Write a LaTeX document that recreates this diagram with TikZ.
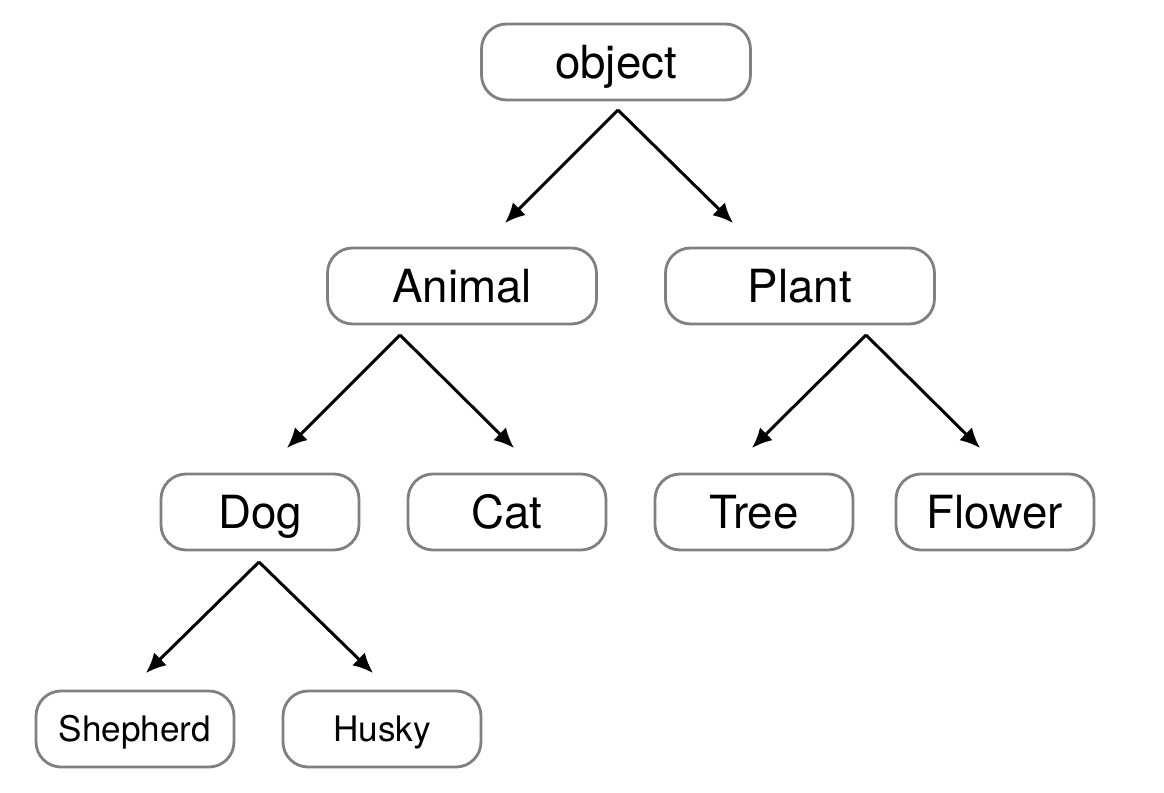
\documentclass[tikz,border=0pt]{standalone}
\usepackage{fontspec}
\setmainfont{TeX Gyre Heros}
\usetikzlibrary{arrows.meta,positioning}
\definecolor{boxgray}{RGB}{128,128,128}

\begin{document}
\begin{tikzpicture}[x=0.02cm,y=-0.02cm,
        every node/.style={font=\fontsize{26}{30}\selectfont},
        box/.style={draw=boxgray,line width=1.6pt,rounded corners=0.5cm,
                    minimum width=5.38cm,minimum height=1.52cm,align=center,
                    text height=18.7pt,text depth=0pt},
        leaf/.style={box,minimum width=3.96cm},
        small/.style={leaf,font=\fontsize{20}{24}\selectfont,text height=14.4pt},
        arr/.style={line width=1.7pt,-{Latex[length=0.4cm,width=0.36cm]}}]
      \useasboundingbox (0,0) rectangle (1164,793);
      \node[box]   (object)   at (616,62)  {object};
      \node[box]   (animal)   at (462,286) {Animal};
      \node[box]   (plant)    at (800,286) {Plant};
      \node[leaf]  (dog)      at (260,512) {Dog};
      \node[leaf]  (cat)      at (507,512) {Cat};
      \node[leaf]  (tree)     at (754,512) {Tree};
      \node[leaf]  (flower)   at (995,512) {Flower};
      \node[small] (shepherd) at (135,729) {Shepherd};
      \node[small] (husky)    at (382,729) {Husky};
      % fork points below the parents, tips above the children
      \coordinate (object-f) at (618,110);
      \coordinate (animal-f) at (400,335);
      \coordinate (plant-f)  at (866,335);
      \coordinate (dog-f)    at (259,562);
      \coordinate (animal-t) at (505,223);
      \coordinate (plant-t)  at (733,223);
      \coordinate (dog-t)    at (287,448);
      \coordinate (cat-t)    at (514,448);
      \coordinate (tree-t)   at (752,448);
      \coordinate (flower-t) at (980,448);
      \coordinate (shepherd-t) at (146,673);
      \coordinate (husky-t)    at (373,673);
      \foreach \a/\b in {object/animal,object/plant,animal/dog,animal/cat,
                         plant/tree,plant/flower,dog/shepherd,dog/husky}{
        \draw[arr] (\a-f)--(\b-t);
      }
    \end{tikzpicture}
\end{document}
